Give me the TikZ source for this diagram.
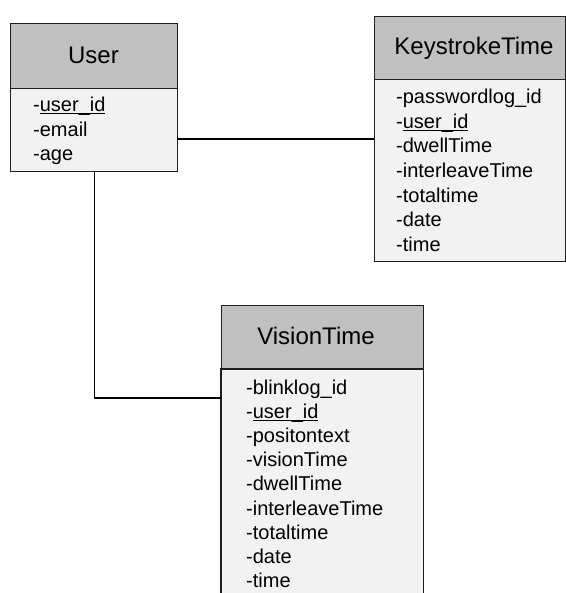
\documentclass[tikz,border=0pt]{standalone}
\usepackage{fontspec}
\setmainfont{Liberation Sans}
\definecolor{hdr}{HTML}{C0C0C0}
\definecolor{bdy}{HTML}{F2F2F2}
\definecolor{edge}{HTML}{1E1E1E}
\newcommand\ulid[1]{\setbox0=\hbox{#1}\rlap{\rule[-2.6bp]{\wd0}{1.1bp}}\box0}
\tikzset{
  hdrbox/.style={draw=edge, line width=1.3bp, fill=hdr, inner sep=0pt, anchor=north west},
  bodybox/.style={draw=edge, line width=1.3bp, fill=bdy, inner sep=0pt, anchor=north west},
  title/.style={anchor=base, inner sep=0pt, font=\fontsize{24bp}{28bp}\selectfont},
  attr/.style={anchor=base west, inner sep=0pt, font=\fontsize{20bp}{24bp}\selectfont},
  link/.style={draw=black, line width=1.3bp},
  edgeline/.style={draw=edge, line width=1.3bp}
}
\begin{document}
\begin{tikzpicture}[x=1bp,y=-1bp]
\useasboundingbox[fill=white] (0,0) rectangle (566,593);
% connectors
\coordinate (c1) at (177,139);
\coordinate (c2) at (221,398);
% User
\node[hdrbox, minimum width=167bp, minimum height=65bp] (uh) at (10,23) {};
\node[bodybox, minimum width=167bp, minimum height=83bp] (ub) at (10,88) {};
\node[title] (ut) at (93.5,63.5) {User};
\node[attr] (u1) at (33,111.7) {-\ulid{user\_id}};
\node[attr] (u2) at (33,136.2) {-email};
\node[attr] (u3) at (33,160.7) {-age};
% KeystrokeTime
\node[hdrbox, minimum width=191bp, minimum height=63bp] (kh) at (374,16) {};
\node[bodybox, minimum width=191bp, minimum height=182bp] (kb) at (374,79) {};
\node[title] (kt) at (474,54.5) {KeystrokeTime};
\foreach \t [count=\i from 0] in {-passwordlog\_id, {-\ulid{user\_id}}, -dwellTime, -interleaveTime, -totaltime, -date, -time}
  \node[attr] (k\i) at (396,104+24.5*\i) {\t};
% VisionTime
\node[hdrbox, minimum width=202bp, minimum height=64bp] (vh) at (221,305) {};
\node[fill=bdy, inner sep=0pt, anchor=north west, minimum width=202bp, minimum height=224bp] (vb) at (221,369) {};
\draw[edgeline] (vb.south west) -- (vb.north west) -- (vb.north east) -- (vb.south east);
\node[title] (vt) at (316,344.5) {VisionTime};
\foreach \t [count=\i from 0] in {-blinklog\_id, {-\ulid{user\_id}}, -positontext, -visionTime, -dwellTime, -interleaveTime, -totaltime, -date, -time}
  \node[attr] (v\i) at (246,394+24.2*\i) {\t};
% links
\draw[link] (c1) -- (kb.west |- c1);
\draw[link] (ub.south) |- (c2);
\end{tikzpicture}
\end{document}
